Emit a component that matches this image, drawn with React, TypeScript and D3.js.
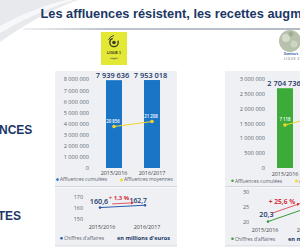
import React from 'react';
import * as d3 from 'd3';

const seasons = ['2015/2016', '2016/2017'];

// Ligue 1
const l1Total = [7939636, 7953018];
const l1Avg = [20856, 21208];
const l1Revenue = [160.6, 162.7];
const l1TotalTicks = [0, 1000000, 2000000, 3000000, 4000000, 5000000, 6000000, 7000000, 8000000];
const l1RevTicks = [150, 160, 170];
const l1Growth = '+ 1,3 %';

// Ligue 2
const l2Total = [2704736, 2781000];
const l2Avg = [7118, 7520];
const l2Revenue = [20.3, 25.5];
const l2TotalTicks = [0, 500000, 1000000, 1500000, 2000000, 2500000, 3000000];
const l2RevTicks = [20, 25, 30];
const l2Growth = '+ 25,6 %';

const fr = d3.formatLocale({ thousands: ' ', decimal: ',', grouping: [3], currency: ['', ''] });
const fmtInt = fr.format(',d');
const fmtDec = fr.format(',.1f');

const NAVY = '#1b3766';
const GREY = '#5b6470';
const BLUE = '#1b75c7';
const GREEN = '#3cab3a';
const YELLOW = '#f1d62c';
const RED = '#d8323c';
const PANEL = '#eef0f4';
const FONT = '"Open Sans", sans-serif';
const ARIAL = 'Liberation Sans, Arial, sans-serif';

const App: React.FC = () => {
  // scales
  const xL1 = d3.scalePoint<string>().domain(seasons).range([114, 152]);
  const yL1 = d3.scaleLinear().domain([0, 8000000]).range([168, 79.5]);
  const yL1Avg = d3.scaleLinear().domain([19000, 23000]).range([153, 96]);
  const xL1Rev = d3.scalePoint<string>().domain(seasons).range([100, 145]);
  const yL1Rev = d3.scaleLinear().domain([150, 170]).range([219.5, 197]);

  const xL2 = d3.scalePoint<string>().domain(seasons).range([285, 323]);
  const yL2 = d3.scaleLinear().domain([0, 3000000]).range([168, 79.5]);
  const yL2Avg = d3.scaleLinear().domain([6200, 8200]).range([148, 98]);
  const xL2Rev = d3.scalePoint<string>().domain(seasons).range([268, 313]);
  const yL2Rev = d3.scaleLinear().domain([20, 30]).range([222.5, 192.5]);

  const barW = 16;

  const avgLine1 = d3.line<number>().x((_, i) => xL1(seasons[i])!).y((d) => yL1Avg(d));
  const avgLine2 = d3.line<number>().x((_, i) => xL2(seasons[i])!).y((d) => yL2Avg(d));
  const revLine1 = d3.line<number>().x((_, i) => xL1Rev(seasons[i])!).y((d) => yL1Rev(d));
  const revLine2 = d3.line<number>().x((_, i) => xL2Rev(seasons[i])!).y((d) => yL2Rev(d));

  // growth arrow between the two revenue points, shifted above the line
  const arrow = (xs: d3.ScalePoint<string>, ys: d3.ScaleLinear<number, number>, vals: number[], t0: number, t1: number, off: number) => {
    const p0 = [xs(seasons[0])!, ys(vals[0])];
    const p1 = [xs(seasons[1])!, ys(vals[1])];
    const at = (t: number) => [p0[0] + (p1[0] - p0[0]) * t, p0[1] + (p1[1] - p0[1]) * t + off];
    const a = at(t0);
    const b = at(t1);
    return `M${a[0]},${a[1]}L${b[0]},${b[1]}`;
  };

  return (
    <svg width={300} height={250} style={{ position: 'fixed', left: 0, top: 0, background: '#fff' }} fontFamily={FONT}>
      <defs>
        <linearGradient id="rule" x1="0" x2="1">
          <stop offset="0" stopColor="#dfe3e8" />
          <stop offset="0.3" stopColor="#7c8a9c" />
          <stop offset="1" stopColor="#6a788a" />
        </linearGradient>
        <marker id="arr" viewBox="0 0 6 6" refX="5" refY="3" markerWidth="4" markerHeight="4" orient="auto">
          <path d="M0,0L6,3L0,6Z" fill={RED} />
        </marker>
      </defs>

      {/* header swoosh */}
      <path d="M0,0H78C55,8 28,22 0,42Z" fill="#e7e9ec" />
      <path d="M0,26C22,14 45,5 66,0H74C48,8 24,19 0,33Z" fill="#f7f8f9" />

      {/* title */}
      <text x={40.5} y={17.5} fontFamily={ARIAL} fontWeight="bold" fontSize={12.8} fill={NAVY}>
        Les affluences résistent, les recettes augmentent
      </text>
      <rect x={23} y={28.5} width={280} height={1} fill="url(#rule)" />

      {/* row labels */}
      <g fontFamily={ARIAL} fontWeight="bold" fontSize={12} fill={NAVY} textAnchor="middle">
        <text x={-8} y={134}>AFFLUENCES</text>
        <text x={-11} y={219.5}>RECETTES</text>
      </g>

      {/* Ligue 1 logo */}
      <g>
        <rect x={101} y={32} width={26} height={33} fill="#e2e834" />
        <circle cx={114} cy={42.5} r={4.2} fill="none" stroke="#3a3a2a" strokeWidth={1.3} strokeDasharray="18 6" />
        <circle cx={114} cy={42.5} r={1.8} fill="#3a3a2a" />
        <path d="M108.5,40 Q110,36 114,35.5" fill="none" stroke="#3a3a2a" strokeWidth={0.9} />
        <text x={114} y={53.5} fontSize={3.6} fontWeight="bold" fill="#33331f" textAnchor="middle" fontFamily={ARIAL}>LIGUE 1</text>
        <path d="M110,58.5h8M112,57.5l2,2l2,-2" fill="none" stroke="#555" strokeWidth={0.5} />
      </g>

      {/* Ligue 2 logo */}
      <g>
        <circle cx={290} cy={41} r={11} fill="#b7c1ab" />
        <circle cx={286} cy={38} r={4} fill="#d3dbc9" />
        <circle cx={294} cy={44} r={3.5} fill="#cdd6c3" />
        <circle cx={291} cy={34} r={2.5} fill="#a3ad96" />
        <text x={291} y={55} fontSize={3} fill="#2a5ba0" textAnchor="middle" fontWeight="bold">Domino's</text>
        <text x={292} y={59.5} fontSize={3.2} fill="#555" textAnchor="middle" letterSpacing={0.6}>LIGUE 2</text>
      </g>

      {/* panels */}
      <rect x={55} y={71} width={122} height={115} fill={PANEL} />
      <rect x={55} y={186} width={122} height={0.8} fill="#c9cdd3" />
      <rect x={55} y={187.5} width={122} height={58} fill={PANEL} />
      <rect x={55} y={245.5} width={122} height={0.8} fill="#c9cdd3" />

      <rect x={225} y={71} width={80} height={115} fill={PANEL} />
      <rect x={225} y={186} width={80} height={0.8} fill="#c9cdd3" />
      <rect x={225} y={187.5} width={80} height={58} fill={PANEL} />
      <rect x={225} y={245.5} width={80} height={0.8} fill="#c9cdd3" />

      {/* ---- Ligue 1 affluences ---- */}
      <g fontSize={5.6} fill={GREY} textAnchor="end">
        {l1TotalTicks.map((t) => (
          <text key={t} x={89} y={yL1(t)} dy="0.35em">{fmtInt(t)}</text>
        ))}
      </g>
      {l1Total.map((v, i) => (
        <rect key={i} x={xL1(seasons[i])! - barW / 2} y={yL1(v)} width={barW} height={yL1(0) - yL1(v)} fill={BLUE} />
      ))}
      {l1Total.map((v, i) => (
        <text key={i} x={xL1(seasons[i])! - 1.5} y={yL1(v) - 2} fontSize={7.4} fontWeight={600} fill={NAVY} textAnchor="middle">{fmtInt(v)}</text>
      ))}
      <path d={avgLine1(l1Avg)!} fill="none" stroke={YELLOW} strokeWidth={1} />
      {l1Avg.map((v, i) => (
        <g key={i}>
          <circle cx={xL1(seasons[i])} cy={yL1Avg(v)} r={1.8} fill={YELLOW} />
          <text x={xL1(seasons[i])! - 1} y={yL1Avg(v) - 4} fontSize={4.4} fontWeight={600} fill="#fff" textAnchor="middle">{fmtInt(v)}</text>
        </g>
      ))}
      {seasons.map((s) => (
        <text key={s} x={xL1(s)} y={174.5} fontSize={5.4} fill="#444" textAnchor="middle">{s}</text>
      ))}
      <circle cx={57.5} cy={179.6} r={1.3} fill={BLUE} />
      <text x={60} y={181.3} fontSize={4.9} fill={GREY}>Affluences cumulées</text>
      <text x={118.5} y={181.6} fontSize={5.5} fill={YELLOW}>★</text>
      <text x={124} y={181.3} fontSize={4.9} fill={GREY}>Affluences moyennes</text>

      {/* ---- Ligue 1 recettes ---- */}
      <g fontSize={5.4} fill={GREY} textAnchor="end">
        {l1RevTicks.map((t) => (
          <text key={t} x={83} y={yL1Rev(t)} dy="0.35em">{t}</text>
        ))}
      </g>
      <path d={revLine1(l1Revenue)!} fill="none" stroke="#2a5ca8" strokeWidth={1} />
      {l1Revenue.map((v, i) => (
        <circle key={i} cx={xL1Rev(seasons[i])} cy={yL1Rev(v)} r={1.3} fill="#2a5ca8" />
      ))}
      <text x={xL1Rev(seasons[0])! - 1} y={yL1Rev(l1Revenue[0]) - 3.5} fontSize={7.2} fontWeight={600} fill={NAVY} textAnchor="middle">{fmtDec(l1Revenue[0])}</text>
      <text x={xL1Rev(seasons[1])! + 2} y={yL1Rev(l1Revenue[1]) - 2.5} fontSize={6.8} fontWeight={600} fill={NAVY} textAnchor="end">{fmtDec(l1Revenue[1])}</text>
      <path d={arrow(xL1Rev, yL1Rev, l1Revenue, 0.27, 0.74, -3)} stroke={RED} strokeWidth={0.8} fill="none" markerEnd="url(#arr)" />
      <text x={119} y={199.5} fontSize={6} fontWeight="bold" fill={RED} textAnchor="middle">{l1Growth}</text>
      {seasons.map((s) => (
        <text key={s} x={xL1Rev(s)! + 2} y={228.5} fontSize={5.4} fill="#444" textAnchor="middle">{s}</text>
      ))}
      <circle cx={61.5} cy={238.3} r={1.3} fill="#2a5ca8" />
      <text x={64} y={240} fontSize={4.9} fill={GREY}>Chiffres d'affaires</text>
      <text x={117} y={240.3} fontSize={5.6} fontWeight="bold" fill={NAVY}>en millions d'euros</text>

      {/* ---- Ligue 2 affluences ---- */}
      <g fontSize={5.6} fill={GREY} textAnchor="end">
        {l2TotalTicks.map((t) => (
          <text key={t} x={265} y={yL2(t)} dy="0.35em">{fmtInt(t)}</text>
        ))}
      </g>
      {l2Total.map((v, i) => (
        <rect key={i} x={xL2(seasons[i])! - barW / 2} y={yL2(v)} width={barW} height={yL2(0) - yL2(v)} fill={GREEN} />
      ))}
      {l2Total.map((v, i) => (
        <text key={i} x={xL2(seasons[i])! - 1} y={yL2(v) - 2} fontSize={7.4} fontWeight={600} fill={NAVY} textAnchor="middle">{fmtInt(v)}</text>
      ))}
      <path d={avgLine2(l2Avg)!} fill="none" stroke={YELLOW} strokeWidth={1} />
      {l2Avg.map((v, i) => (
        <g key={i}>
          <circle cx={xL2(seasons[i])} cy={yL2Avg(v)} r={1.8} fill={YELLOW} />
          <text x={xL2(seasons[i])} y={yL2Avg(v) - 4.5} fontSize={4.4} fontWeight={600} fill="#fff" textAnchor="middle">{fmtInt(v)}</text>
        </g>
      ))}
      {seasons.map((s) => (
        <text key={s} x={xL2(s)} y={175.5} fontSize={5.4} fill="#444" textAnchor="middle">{s}</text>
      ))}
      <circle cx={232.5} cy={180.8} r={1.3} fill={GREEN} />
      <text x={235} y={182.5} fontSize={4.9} fill={GREY}>Affluences cumulées</text>
      <text x={293.5} y={182.8} fontSize={5.5} fill={YELLOW}>★</text>
      <text x={299} y={182.5} fontSize={4.9} fill={GREY}>Affluences moyennes</text>

      {/* ---- Ligue 2 recettes ---- */}
      <g fontSize={5.4} fill={GREY} textAnchor="middle">
        {l2RevTicks.map((t) => (
          <text key={t} x={246} y={yL2Rev(t)} dy="0.35em">{t}</text>
        ))}
      </g>
      <path d={revLine2(l2Revenue)!} fill="none" stroke="#3a9a3a" strokeWidth={1} />
      {l2Revenue.map((v, i) => (
        <circle key={i} cx={xL2Rev(seasons[i])} cy={yL2Rev(v)} r={1.3} fill="#3a9a3a" />
      ))}
      <text x={xL2Rev(seasons[0])! - 1.5} y={yL2Rev(l2Revenue[0]) - 5} fontSize={7.2} fontWeight={600} fill={NAVY} textAnchor="middle">{fmtDec(l2Revenue[0])}</text>
      <path d={arrow(xL2Rev, yL2Rev, l2Revenue, 0.09, 0.7, -7)} stroke={RED} strokeWidth={0.8} fill="none" markerEnd="url(#arr)" />
      <text x={282} y={203.5} fontSize={6.6} fontWeight="bold" fill={RED} textAnchor="middle">{l2Growth}</text>
      {seasons.map((s) => (
        <text key={s} x={xL2Rev(s)! - 3} y={231.5} fontSize={5.4} fill="#444" textAnchor="middle">{s}</text>
      ))}
      <circle cx={232.5} cy={238.8} r={1.3} fill="#3a9a3a" />
      <text x={235} y={240.5} fontSize={4.9} fill={GREY}>Chiffres d'affaires</text>
      <text x={288} y={240.8} fontSize={5.6} fontWeight="bold" fill={NAVY}>en millions d'euros</text>
    </svg>
  );
};

export default App;
